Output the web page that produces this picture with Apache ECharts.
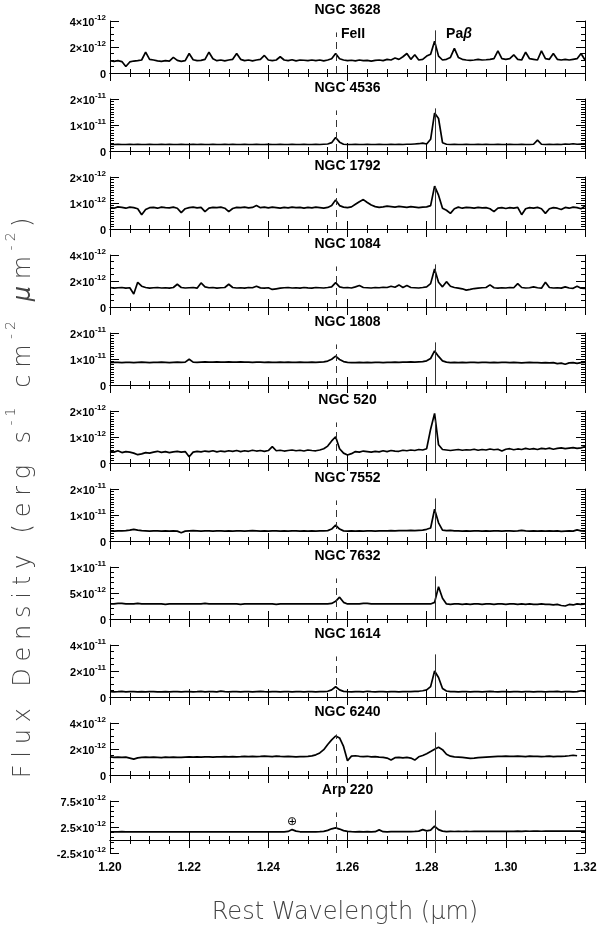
<!DOCTYPE html>
<html><head><meta charset="utf-8">
<script src="https://cdn.jsdelivr.net/npm/echarts@6/dist/echarts.min.js"></script>
<style>html,body{margin:0;padding:0;background:#fff}#c{width:600px;height:931px}</style>
</head><body><div id="c"></div><script>
// Panel names
const galaxies = ['NGC 3628','NGC 4536','NGC 1792','NGC 1084','NGC 1808','NGC 520','NGC 7552','NGC 7632','NGC 1614','NGC 6240','Arp 220'];
// wavelength sampling (micron)
const WL_START = 1.200, WL_STEP = 0.001;
// x axis
const xMin = 1.20, xMax = 1.32, xInterval = 0.02;
// y axis per panel (units of 1e-12 erg/s/cm2/um)
const yMin = [0,0,0,0,0,0,0,0,0,0,-2.5];
const yMax = [4,20,2,4,20,2,20,10,40,4,7.5];
const yInterval = [2,10,1,2,10,1,10,5,20,2,5];
const yMinorSplit = [4,10,10,4,10,10,10,5,4,4,5];
// line markers (micron)
const lineFeII = 1.2571, linePaB = 1.2821;

// Flux density spectra, units of 1e-12
const fNGC3628 = [0.95,0.90,0.95,0.88,0.50,0.85,0.92,0.95,1.00,1.60, 1.05,1.00,0.93,0.90,0.95,0.92,1.20,0.97,0.90,0.95, 1.50,1.02,0.95,0.97,1.05,1.60,1.10,0.95,1.00,0.93, 1.00,1.05,1.50,1.05,0.95,1.00,0.93,1.00,1.05,1.35, 1.00,0.95,1.00,1.25,1.00,0.95,1.02,0.93,1.00,0.98, 0.95,1.00,0.95,1.00,0.93,1.00,1.10,1.50,1.10,1.00, 0.95,0.98,0.93,1.00,0.95,0.97,0.92,0.97,1.00,0.95, 1.05,1.00,1.15,1.05,1.25,1.50,1.05,1.40,1.00,1.05, 1.30,1.45,2.45,1.30,1.00,1.05,1.20,1.90,1.20,1.05, 1.00,0.97,1.00,1.05,1.00,1.02,1.05,1.10,1.70,1.10, 1.05,1.10,1.40,1.05,1.00,1.60,1.10,1.05,1.00,1.70, 1.10,1.05,1.50,1.05,1.00,1.05,1.00,1.05,1.10,1.50, 1.00];
const fNGC4536 = [2.6,2.5,2.6,2.5,2.5,2.6,2.5,2.6,2.5,2.5, 2.6,2.5,2.5,2.6,2.5,2.6,2.5,2.5,2.6,2.5, 2.5,2.6,2.5,2.6,2.5,2.5,2.6,2.5,2.5,2.6, 2.5,2.6,2.5,2.5,2.6,2.5,2.5,2.6,2.5,2.5, 2.6,2.5,2.5,2.6,2.5,2.5,2.6,2.5,2.5,2.6, 2.5,2.5,2.6,2.5,2.6,2.7,3.2,5.2,3.4,2.6, 2.5,2.5,2.6,2.5,2.5,2.6,2.5,2.5,2.6,2.5, 2.5,2.6,2.5,2.6,2.5,2.6,2.6,2.7,2.8,3.0, 2.7,4.5,14.6,12.5,3.2,2.6,2.5,2.6,2.5,2.5, 2.6,2.5,2.5,2.6,2.5,2.6,2.5,2.5,2.6,2.5, 2.5,2.6,2.5,2.5,2.6,2.5,2.5,2.6,4.2,2.6, 2.5,2.6,2.5,2.6,2.5,2.7,2.6,2.8,2.6,2.7, 2.6];
const fNGC1792 = [0.82,0.80,0.85,0.83,0.80,0.84,0.82,0.78,0.55,0.75, 0.82,0.83,0.80,0.84,0.82,0.81,0.84,0.80,0.63,0.78, 0.82,0.84,0.81,0.83,0.67,0.80,0.83,0.82,0.84,0.80, 0.67,0.79,0.83,0.82,0.84,0.81,0.83,0.90,0.82,0.84, 0.81,0.84,0.82,0.80,0.83,0.81,0.84,0.82,0.83,0.80, 0.83,0.81,0.84,0.82,0.80,0.83,0.90,1.12,0.90,0.84, 0.82,0.85,0.95,1.05,1.13,1.02,0.92,0.86,0.83,0.85, 0.88,0.86,0.84,0.87,0.85,0.83,0.86,0.84,0.82,0.84, 0.85,0.90,1.65,1.30,0.80,0.72,0.60,0.78,0.84,0.80, 0.83,0.82,0.80,0.83,0.81,0.82,0.78,0.67,0.80,0.82, 0.79,0.82,0.80,0.83,0.55,0.78,0.82,0.80,0.83,0.78, 0.60,0.78,0.82,0.80,0.75,0.83,0.80,0.84,0.82,0.78, 0.88];
const fNGC1084 = [1.50,1.45,1.48,1.50,1.45,1.48,1.00,1.90,1.60,1.50, 1.45,1.48,1.50,1.46,1.48,1.45,1.50,1.75,1.50,1.46, 1.48,1.50,1.45,1.85,1.55,1.48,1.50,1.45,1.48,1.50, 1.75,1.50,1.46,1.48,1.45,1.50,1.48,1.60,1.47,1.45, 1.48,1.35,1.40,1.45,1.48,1.50,1.46,1.48,1.45,1.50, 1.47,1.45,1.50,1.48,1.46,1.50,1.55,1.87,1.55,1.48, 1.50,1.46,1.55,1.65,1.50,1.48,1.46,1.50,1.48,1.52, 1.50,1.60,1.52,1.70,1.50,1.65,1.50,1.48,1.46,1.50, 1.55,1.80,2.92,1.90,1.55,1.95,1.60,1.50,1.45,1.40, 1.30,1.35,1.42,1.45,1.48,1.50,1.70,1.48,1.45,1.48, 1.46,1.50,1.48,1.80,1.50,1.46,1.48,1.55,1.48,1.45, 1.90,1.50,1.46,1.48,1.45,1.55,1.46,1.44,1.60,1.45, 1.44];
const fNGC1808 = [8.6,8.7,8.7,8.6,8.7,8.7,8.6,8.7,8.8,8.7, 8.6,8.7,8.7,8.8,8.7,8.6,8.7,8.8,8.7,8.8, 9.9,8.8,8.7,8.8,8.9,8.8,8.8,8.9,8.8,8.8, 8.9,8.8,8.8,8.9,8.8,8.8,8.7,8.8,8.8,8.7, 8.8,8.7,8.7,8.8,8.7,8.8,8.7,8.7,8.8,8.7, 8.7,8.8,8.7,8.8,8.9,9.2,9.9,11.1,9.8,9.0, 8.7,8.6,8.6,8.7,8.6,8.7,8.6,8.7,8.7,8.6, 8.7,8.7,8.8,8.7,8.8,8.8,8.9,8.8,8.9,9.0, 9.3,10.2,13.1,11.0,9.3,8.8,8.6,8.7,8.6,8.7, 8.6,8.7,8.7,8.6,8.7,8.7,8.6,8.7,8.6,8.7, 8.7,8.6,8.7,8.6,8.5,8.6,8.7,8.6,8.6,8.5, 8.6,8.5,8.6,8.2,8.4,8.0,8.5,8.6,8.3,8.6, 8.7];
const fNGC520 = [0.45,0.42,0.47,0.40,0.44,0.42,0.38,0.32,0.35,0.40, 0.38,0.42,0.45,0.41,0.44,0.40,0.43,0.45,0.42,0.44, 0.24,0.42,0.45,0.43,0.46,0.44,0.47,0.43,0.46,0.44, 0.47,0.45,0.48,0.44,0.47,0.45,0.49,0.46,0.48,0.45, 0.48,0.63,0.47,0.49,0.46,0.48,0.50,0.47,0.49,0.46, 0.50,0.48,0.47,0.50,0.55,0.65,0.85,1.01,0.55,0.38, 0.31,0.36,0.44,0.42,0.46,0.44,0.42,0.45,0.43,0.47, 0.44,0.48,0.46,0.45,0.49,0.47,0.50,0.48,0.52,0.50, 0.55,1.30,1.91,0.70,0.52,0.50,0.48,0.50,0.52,0.49, 0.51,0.50,0.53,0.49,0.52,0.50,0.54,0.51,0.53,0.46, 0.53,0.55,0.51,0.54,0.52,0.56,0.53,0.55,0.52,0.56, 0.54,0.57,0.53,0.56,0.58,0.55,0.57,0.59,0.56,0.58, 0.63];
const fNGC7552 = [3.9,3.8,3.9,3.9,4.0,4.2,4.5,4.2,4.0,3.9, 3.8,3.9,3.9,3.8,3.9,3.8,3.9,3.8,3.2,3.8, 3.9,4.0,3.9,3.8,3.9,3.9,3.8,3.9,3.9,3.8, 3.9,3.8,3.9,3.9,3.8,3.9,4.0,3.9,3.8,3.9, 3.8,3.9,3.9,3.8,3.9,3.8,3.9,3.9,3.8,3.9, 3.8,3.9,3.8,3.9,3.9,4.0,4.6,6.1,4.6,3.9, 3.8,3.9,3.8,3.9,3.8,3.9,3.9,3.8,3.9,3.9, 3.9,4.0,3.9,4.0,4.0,4.0,4.1,4.0,4.1,4.2, 4.5,5.0,12.2,7.0,4.2,4.0,4.1,3.9,3.9,3.8, 3.9,3.8,3.9,3.9,3.8,3.9,3.8,3.9,3.9,3.8, 3.9,3.9,3.8,3.9,4.1,3.9,3.8,3.9,3.8,3.9, 3.8,3.9,3.8,3.9,3.7,3.8,3.9,3.8,4.3,3.9, 3.8];
const fNGC7632 = [2.9,2.9,3.0,3.0,2.9,2.9,2.9,3.0,2.9,2.9, 2.9,2.9,2.9,2.9,2.8,2.9,2.9,2.9,2.9,2.9, 2.9,2.9,2.9,2.9,3.0,2.9,2.9,2.9,2.9,2.9, 2.9,2.9,2.9,2.8,2.9,2.9,2.9,2.9,2.9,2.9, 2.9,2.9,2.8,2.9,2.9,2.9,2.9,2.9,2.9,2.9, 2.9,2.9,2.9,2.9,2.9,2.9,3.0,3.4,4.2,3.2, 2.9,2.9,2.9,2.9,3.0,3.0,2.9,2.9,2.9,2.9, 2.9,2.9,2.9,2.9,2.9,2.9,2.9,2.9,2.9,2.9, 2.9,2.9,3.2,6.2,4.0,2.9,2.8,2.9,2.9,2.8, 2.9,2.8,2.9,2.9,2.8,2.9,2.9,2.8,2.9,2.9, 2.8,2.9,2.9,2.8,2.9,2.8,2.9,2.8,2.8,2.9, 2.8,2.8,2.7,2.8,2.6,2.5,2.8,2.7,2.9,2.8, 2.9];
const fNGC1614 = [4.2,4.0,4.1,4.3,4.0,4.1,4.2,4.0,4.1,3.9, 4.1,4.2,4.0,3.9,4.1,4.0,4.2,4.1,4.0,4.1, 4.2,4.0,4.1,4.3,4.0,4.1,4.2,4.0,4.5,4.1, 4.0,4.2,4.1,4.0,4.2,4.1,4.0,4.2,4.4,4.1, 4.0,4.2,4.1,4.0,4.2,4.1,4.0,4.1,4.2,4.0, 4.1,4.2,4.0,4.1,4.2,4.4,5.5,7.9,5.5,4.3, 4.1,4.0,4.2,4.1,4.0,4.4,4.1,4.0,4.2,4.1, 4.0,4.2,4.1,4.0,4.2,4.1,4.2,4.3,4.4,4.8, 5.5,8.0,20.0,15.0,6.5,4.6,4.2,4.1,4.0,4.2, 4.1,4.0,4.2,4.1,4.0,4.2,4.4,4.1,4.0,4.2, 4.1,4.0,4.2,4.1,4.0,4.2,4.1,4.0,4.2,4.1, 4.0,4.2,4.1,4.3,4.0,4.1,4.2,4.0,4.1,4.8, 4.2];
const fNGC6240 = [1.40,1.36,1.38,1.35,1.38,1.30,1.22,1.32,1.36,1.38, 1.35,1.38,1.36,1.34,1.37,1.35,1.38,1.36,1.35,1.38, 1.40,1.38,1.40,1.37,1.39,1.40,1.38,1.40,1.39,1.41, 1.40,1.42,1.40,1.41,1.43,1.42,1.44,1.42,1.43,1.45, 1.44,1.42,1.45,1.43,1.42,1.44,1.42,1.40,1.42,1.41, 1.43,1.47,1.55,1.70,1.95,2.35,2.70,3.00,2.85,2.20, 1.10,1.45,1.48,1.44,1.42,1.44,1.40,1.42,1.38,1.35, 1.30,1.15,1.33,1.36,1.32,1.35,1.30,1.15,1.40,1.50, 1.64,1.80,1.98,2.13,1.95,1.60,1.45,1.40,1.38,1.35, 1.32,1.28,1.30,1.34,1.36,1.38,1.40,1.42,1.44,1.43, 1.45,1.44,1.43,1.45,1.44,1.42,1.45,1.43,1.44,1.42, 1.43,1.45,1.42,1.44,1.43,1.45,1.48,1.52,1.48,null, null];
const fArp220 = [1.55,1.58,1.55,1.60,1.56,1.55,1.58,1.56,1.55,1.57, 1.56,1.58,1.55,1.57,1.56,1.58,1.55,1.57,1.56,1.58, 1.56,1.57,1.58,1.56,1.57,1.55,1.58,1.56,1.57,1.56, 1.58,1.56,1.57,1.55,1.58,1.56,1.57,1.56,1.58,1.57, 1.56,1.58,1.57,1.56,1.58,1.65,2.00,1.70,1.58,1.57, 1.58,1.56,1.57,1.60,1.65,1.85,2.15,2.34,2.10,1.80, 1.65,1.60,1.58,1.60,1.58,1.60,1.58,1.60,1.95,1.60, 1.58,1.60,1.62,1.60,1.62,1.60,1.62,1.65,1.70,2.00, 1.75,1.90,2.66,2.00,1.70,1.62,1.65,1.63,1.65,1.63, 1.65,1.63,1.65,1.64,1.66,1.65,1.67,1.65,1.66,1.68, 1.66,1.68,1.67,1.69,1.67,1.70,1.68,1.69,1.70,1.68, 1.70,1.69,1.71,1.70,1.72,1.70,1.71,1.70,1.72,1.71, 1.72];
const spectra = [fNGC3628,fNGC4536,fNGC1792,fNGC1084,fNGC1808,fNGC520,fNGC7552,fNGC7632,fNGC1614,fNGC6240,fArp220];

// ---- layout ----
const L = 110, W = 475, TOP0 = 21, STEP_Y = 78, H = 52;
const FONT = '"Liberation Sans", Arial, sans-serif';

function sci(v){
  if (Math.abs(v) < 1e-9) return '{m|0}';
  const a = Math.abs(v) * 1e-12;
  const e = Math.floor(Math.log10(a) + 1e-9);
  let m = Math.abs(v) * 1e-12 / Math.pow(10, e);
  m = Math.round(m * 10) / 10;
  return '{m|' + (v < 0 ? '-' : '') + m + '×10}{e|' + e + '}';
}
const rich = {
  m: {fontSize: 11, fontWeight: 'bold', fontFamily: FONT, color: '#000', lineHeight: 14, verticalAlign: 'bottom'},
  e: {fontSize: 8, fontWeight: 'bold', fontFamily: FONT, color: '#000', lineHeight: 14, verticalAlign: 'top', padding: [0,0,3,0]}
};

// spaced title text (wide letter spacing like the original plot font)
function spacedRich(parts){
  let s = '';
  parts.forEach(([t, st]) => { for (const ch of t) s += '{' + st + '|' + (ch === ' ' ? '\u00a0' : ch) + '}'; });
  return s;
}
const titleRich = {
  c: {fontSize: 24, fontFamily: '"DejaVu Sans"', fontWeight: 300, color: '#444', padding: [0, 3.4, 0, 3.4], lineHeight: 32, verticalAlign: 'bottom'},
  s: {fontSize: 14, fontFamily: '"DejaVu Sans"', fontWeight: 300, color: '#444', padding: [0, 2, 12, 2], lineHeight: 32, verticalAlign: 'top'},
  g: {fontSize: 24, fontFamily: '"DejaVu Sans"', fontStyle: 'italic', fontWeight: 300, color: '#444', padding: [0, 3.4, 0, 3.4], lineHeight: 32, verticalAlign: 'bottom'}
};

const grids = [], xAxes = [], yAxes = [], series = [], graphics = [];
galaxies.forEach((name, k) => {
  const top = TOP0 + STEP_Y * k;
  grids.push({left: L, top: top, width: W, height: H, show: false});
  const last = k === galaxies.length - 1;
  const axLine = {show: true, lineStyle: {color: '#000', width: 1}};
  const xCommon = {type: 'value', gridIndex: k, min: xMin, max: xMax, interval: xInterval,
    axisLine: axLine, splitLine: {show: false},
    axisTick: {show: true, inside: true, length: 8, lineStyle: {color: '#000'}},
    minorTick: {show: true, splitNumber: 4, length: 4, lineStyle: {color: '#000'}},
  };
  xAxes.push(Object.assign({}, xCommon, {position: 'bottom',
    axisLabel: {show: last, margin: 9, fontSize: 12, fontWeight: 'bold', fontFamily: FONT, color: '#000',
      formatter: v => v.toFixed(2)}}));
  xAxes.push(Object.assign({}, xCommon, {position: 'top', axisLabel: {show: false}}));
  const yCommon = {type: 'value', gridIndex: k, min: yMin[k], max: yMax[k], interval: yInterval[k],
    axisLine: axLine, splitLine: {show: false},
    axisTick: {show: true, inside: true, length: 9, lineStyle: {color: '#000'}},
    minorTick: {show: true, splitNumber: yMinorSplit[k], length: 4, lineStyle: {color: '#000'}}};
  yAxes.push(Object.assign({}, yCommon, {position: 'left',
    axisLabel: {show: true, margin: 4, formatter: sci, rich: rich}}));
  yAxes.push(Object.assign({}, yCommon, {position: 'right', axisLabel: {show: false}}));

  const span = yMax[k] - yMin[k];
  const data = spectra[k].map((v, i) => [WL_START + WL_STEP * i, v]);
  series.push({type: 'line', xAxisIndex: 2 * k, yAxisIndex: 2 * k, data: data,
    showSymbol: false, symbol: 'none', connectNulls: false,
    lineStyle: {color: '#000', width: 1.7}, z: 3,
    markLine: {silent: true, symbol: 'none', label: {show: false}, animation: false,
      data: [
        [{coord: [lineFeII, yMin[k]], lineStyle: {type: [7, 5], color: '#333', width: 1}},
         {coord: [lineFeII, yMin[k] + 0.78 * span]}],
        [{coord: [linePaB, yMin[k]], lineStyle: {type: 'solid', color: '#333', width: 1}},
         {coord: [linePaB, yMin[k] + 0.82 * span]}]
      ]}
  });
  graphics.push({type: 'text', x: L + W / 2, y: top - 11,
    style: {text: name, font: 'bold 14px ' + FONT, fill: '#000', textAlign: 'center', textVerticalAlign: 'middle'}});
});

graphics.push({type: 'text', x: 353, y: 34,
  style: {text: 'FeII', font: 'bold 14px ' + FONT, fill: '#000', textAlign: 'center', textVerticalAlign: 'middle'}});
graphics.push({type: 'text', x: 459, y: 34,
  style: {text: '{a|Pa}{b|β}', fill: '#000', textAlign: 'center', textVerticalAlign: 'middle',
    rich: {a: {fontSize: 14, fontWeight: 'bold', fontFamily: FONT, color: '#000'},
           b: {fontSize: 14, fontWeight: 'bold', fontStyle: 'italic', fontFamily: FONT, color: '#000'}}}});
graphics.push({type: 'text', x: 292, y: 822,
  style: {text: '⊕', font: '12px "DejaVu Sans"', fill: '#000', textAlign: 'center', textVerticalAlign: 'middle'}});
graphics.push({type: 'text', x: 345, y: 913,
  style: {text: 'Rest Wavelength (μm)', font: '300 24px "DejaVu Sans"', fill: '#444', textAlign: 'center', textVerticalAlign: 'middle'}});
graphics.push({type: 'text', x: 20, y: 498, rotation: Math.PI / 2,
  style: {text: spacedRich([['Flux Density (erg s','c'],['-1','s'],[' cm','c'],['-2','s'],[' ','c'],['μ','g'],['m','c'],['-2','s'],[')','c']]),
    rich: titleRich, fill: '#444', textAlign: 'center', textVerticalAlign: 'middle'}});

const chart = echarts.init(document.getElementById('c'), null, {renderer: 'canvas'});
chart.setOption({animation: false, backgroundColor: '#fff', grid: grids, xAxis: xAxes, yAxis: yAxes, series: series, graphic: graphics});
</script></body></html>
